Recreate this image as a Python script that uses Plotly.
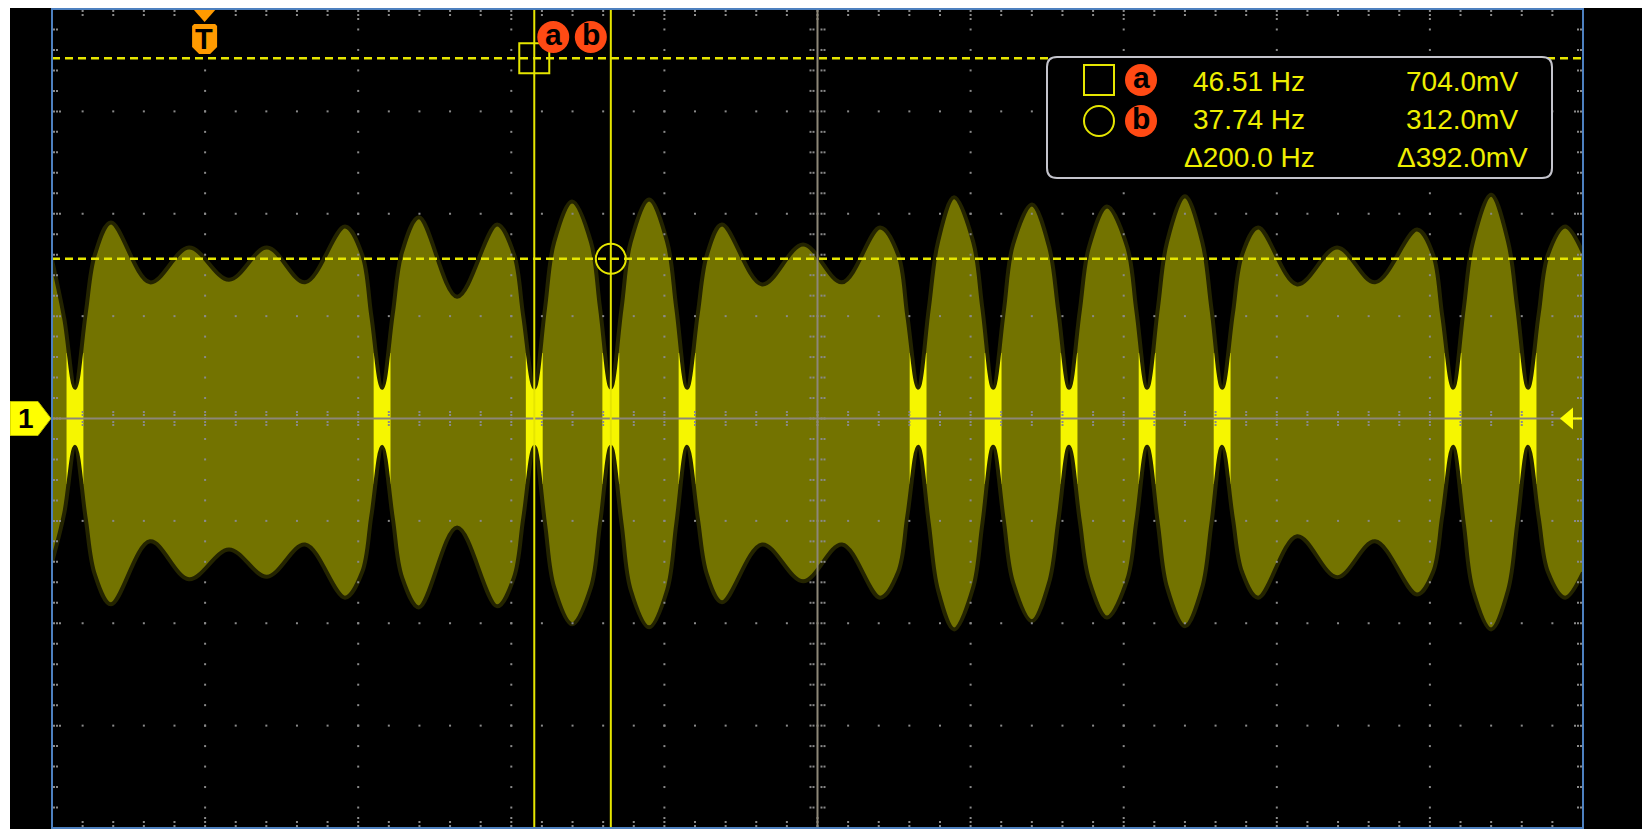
import plotly.graph_objects as go

# ---------------- data ----------------
# envelope of the acquired waveform (time in ms, amplitude in mV)
time_ms = [-10.0, -9.2, -8.5, -7.8, -7.2, -6.15, -3.6, -1.05, 1.56, 4.04, 6.53, 9.14,
           10.26, 10.86, 11.56, 12.26, 12.86, 13.97, 16.46, 19.07,
           20.18, 20.78, 21.5, 22.2, 22.8, 23.97,
           25.2, 25.8, 26.5, 27.2, 27.8, 29.0,
           30.18, 30.78, 31.48, 32.18, 32.78, 33.76, 36.38, 39.06, 41.6, 44.09,
           45.27, 45.87, 46.57, 47.27, 47.87, 48.92,
           50.17, 50.77, 51.47, 52.17, 52.77, 54.01,
           55.13, 55.73, 56.43, 57.13, 57.73, 58.91,
           60.23, 60.83, 61.53, 62.23, 62.83, 64.0,
           65.13, 65.73, 66.43, 67.13, 67.73, 68.78, 71.33, 73.94, 76.42, 79.16,
           80.21, 80.81, 81.51, 82.21, 82.81, 84.0,
           85.11, 85.71, 86.41, 87.11, 87.71, 88.83, 90.0]
upper_mv = [310, 195, 60, 205, 320, 383, 266, 334, 271, 334, 266, 375,
            320, 200, 60, 205, 325, 393, 238, 379,
            320, 200, 60, 215, 345, 424,
            345, 215, 60, 215, 345, 428,
            345, 215, 60, 205, 320, 379, 262, 340, 266, 373,
            320, 200, 60, 215, 345, 432,
            345, 215, 60, 210, 340, 418,
            335, 210, 60, 210, 335, 414,
            335, 210, 60, 215, 345, 434,
            345, 215, 60, 205, 320, 373, 262, 334, 266, 369,
            320, 200, 60, 215, 345, 437,
            345, 215, 60, 205, 320, 375, 324]
lower_mv = [-281, -185, -55, -195, -305, -363, -240, -314, -256, -309, -246, -350,
            -300, -190, -55, -195, -310, -369, -213, -367,
            -310, -195, -55, -205, -330, -402,
            -330, -205, -55, -205, -335, -408,
            -335, -205, -55, -195, -305, -359, -246, -318, -246, -350,
            -300, -190, -55, -205, -335, -412,
            -330, -205, -55, -200, -320, -396,
            -320, -200, -55, -200, -315, -389,
            -315, -200, -55, -205, -330, -406,
            -330, -205, -55, -195, -300, -350, -230, -310, -240, -344,
            -300, -190, -55, -205, -335, -412,
            -335, -205, -55, -195, -300, -350, -301]
# envelope nulls (bright trace regions)
node_ms = [-8.5, 11.56, 21.5, 26.5, 31.48, 46.57, 51.47, 56.43, 61.53, 66.43, 81.51, 86.41]

cursor_time_ms = [21.50, 26.50]      # cursor a, cursor b
cursor_level_mv = [704.0, 312.0]     # cursor a, cursor b
trigger_ms = 0.0

# ---------------- scope geometry ----------------
T_MIN, T_DIV, N_TDIV = -10.0, 10.0, 10
V_DIV, N_VDIV = 200.0, 8
T_MAX = T_MIN + T_DIV * N_TDIV
V_MAX = V_DIV * N_VDIV / 2
W, H = 1642, 829
ML, MR, MT, MB = 52, 59, 9, 1
PW, PH = W - ML - MR, H - MT - MB
PXT = (T_MAX - T_MIN) / PW          # ms per pixel
PXV = (2 * V_MAX) / PH              # mV per pixel


def X(px):
    return T_MIN + (px - ML) * PXT


def Y(py):
    return V_MAX - (py - MT) * PXV


OLIVE = '#737300'
FRINGE = '#242400'
BRIGHT = '#f6f600'
CUR = '#e6e600'
TXT = '#eeee00'
GRID = '#8a8a8a'
CENTER = '#8d8778'
BADGE = '#ff4a14'
TRIG = '#ff9a00'

fig = go.Figure()

# olive body of the signal
fig.add_trace(go.Scatter(x=[T_MIN - 1, T_MAX + 1, T_MAX + 1, T_MIN - 1, T_MIN - 1],
                         y=[-500, -500, 500, 500, -500], mode='lines', fill='toself',
                         fillcolor=OLIVE, line=dict(width=0), hoverinfo='skip'))
# bright trace around the envelope nulls
bx, by = [], []
hw, hh = 0.55, 128
for n in node_ms:
    bx += [n - hw, n + hw, n + hw, n - hw, n - hw, None]
    by += [-hh, -hh, hh, hh, -hh, None]
fig.add_trace(go.Scatter(x=bx, y=by, mode='lines', fill='toself', fillcolor=BRIGHT,
                         line=dict(width=0), hoverinfo='skip'))
# black above the upper envelope
fig.add_trace(go.Scatter(x=[T_MIN - 0.5, T_MAX + 0.5], y=[1200, 1200], mode='lines',
                         line=dict(width=0), hoverinfo='skip'))
fig.add_trace(go.Scatter(x=time_ms, y=upper_mv, mode='lines', fill='tonexty', fillcolor='black',
                         line=dict(color=FRINGE, width=4, shape='spline', smoothing=1.0),
                         hoverinfo='skip'))
# black below the lower envelope
fig.add_trace(go.Scatter(x=[T_MIN - 0.5, T_MAX + 0.5], y=[-1200, -1200], mode='lines',
                         line=dict(width=0), hoverinfo='skip'))
fig.add_trace(go.Scatter(x=time_ms, y=lower_mv, mode='lines', fill='tonexty', fillcolor='black',
                         line=dict(color=FRINGE, width=4, shape='spline', smoothing=1.0),
                         hoverinfo='skip'))

# graticule dots
gx, gy = [], []
minor_t = [T_MIN + k * T_DIV / 5 for k in range(1, N_TDIV * 5)]
minor_v = [-V_MAX + k * V_DIV / 5 for k in range(1, N_VDIV * 5)]
t_center = T_MIN + T_DIV * N_TDIV / 2
for k in range(1, N_TDIV):
    t = T_MIN + k * T_DIV
    if abs(t - t_center) < 1e-9:
        continue
    for v in minor_v:
        gx.append(t); gy.append(v)
for k in range(1, N_VDIV):
    v = -V_MAX + k * V_DIV
    if abs(v) < 1e-9:
        continue
    for t in minor_t:
        gx.append(t); gy.append(v)
for v in minor_v:
    major = abs(round(v / V_DIV) * V_DIV - v) < 1e-6
    offs = [2, 5, 8] if major else [2, 5]
    for o in offs:
        gx += [T_MIN + o * PXT, T_MAX - o * PXT]; gy += [v, v]
    for o in [4, 7]:
        gx += [t_center - o * PXT, t_center + o * PXT]; gy += [v, v]
for t in minor_t:
    major = abs(round((t - T_MIN) / T_DIV) * T_DIV - (t - T_MIN)) < 1e-6
    offs = [2, 6, 10] if major else [2, 6]
    for o in offs:
        gx += [t, t]; gy += [V_MAX - o * PXV, -V_MAX + o * PXV]
    for o in [3.5, 6.5]:
        gx += [t, t]; gy += [o * PXV, -o * PXV]
fig.add_trace(go.Scatter(x=gx, y=gy, mode='markers', hoverinfo='skip',
                         marker=dict(symbol='square', size=2, color=GRID, line=dict(width=0))))
# centre cross
fig.add_trace(go.Scatter(x=[T_MIN, T_MAX], y=[0, 0], mode='lines',
                         line=dict(color=CENTER, width=2), hoverinfo='skip'))
fig.add_trace(go.Scatter(x=[t_center, t_center], y=[-V_MAX, V_MAX], mode='lines',
                         line=dict(color=CENTER, width=2), hoverinfo='skip'))

ta, tb = cursor_time_ms
va, vb = cursor_level_mv
shapes = []
ann = []

# horizontal (level) cursors
for v in cursor_level_mv:
    shapes.append(dict(type='line', xref='paper', yref='y', x0=0, x1=1, y0=v, y1=v,
                       line=dict(color=CUR, width=2.5, dash='8px,5px'), layer='above'))
# vertical (time) cursors
for t in cursor_time_ms:
    shapes.append(dict(type='line', xref='x', yref='paper', x0=t, x1=t, y0=0, y1=1,
                       line=dict(color=CUR, width=2), layer='above'))
# cursor crossing markers
shapes.append(dict(type='rect', xref='x', yref='y', xsizemode='pixel', ysizemode='pixel',
                   xanchor=ta, yanchor=va, x0=-15, x1=15, y0=-15, y1=15,
                   line=dict(color=CUR, width=2), layer='above'))
shapes.append(dict(type='circle', xref='x', yref='y', xsizemode='pixel', ysizemode='pixel',
                   xanchor=tb, yanchor=vb, x0=-15, x1=15, y0=-15, y1=15,
                   line=dict(color=CUR, width=2), layer='above'))
# cursor badges at top
for t, dx, lab in [(ta, 19, 'a'), (tb, -20, 'b')]:
    shapes.append(dict(type='circle', xref='x', yref='paper', xsizemode='pixel', ysizemode='pixel',
                       xanchor=t, yanchor=1, x0=dx - 16, x1=dx + 16, y0=-44, y1=-12,
                       fillcolor=BADGE, line=dict(width=0), layer='above'))
    ann.append(dict(x=t, y=1, xref='x', yref='paper', xshift=dx, yshift=-25, text='<b>%s</b>' % lab,
                    showarrow=False, xanchor='center', yanchor='middle',
                    font=dict(family='Liberation Sans', size=30, color='black')))

# trigger marker
shapes.append(dict(type='path', xref='x', yref='paper', xsizemode='pixel', ysizemode='pixel',
                   xanchor=trigger_ms, yanchor=1, path='M -12,0 L 11,0 L -0.5,-13 Z',
                   fillcolor=TRIG, line=dict(width=0), layer='above'))
shapes.append(dict(type='path', xref='x', yref='paper', xsizemode='pixel', ysizemode='pixel',
                   xanchor=trigger_ms, yanchor=1,
                   path='M -11,-15 L 10,-15 L 12,-17 L 12,-38 L 5,-45 L -6,-45 L -13,-38 L -13,-17 Z',
                   fillcolor=TRIG, line=dict(width=0), layer='above'))
ann.append(dict(x=trigger_ms, y=1, xref='x', yref='paper', xshift=-1, yshift=-30, text='<b>T</b>',
                showarrow=False, xanchor='center', yanchor='middle',
                font=dict(family='Liberation Sans', size=29, color='black')))

# channel 1 ground marker (left) and level arrow (right)
shapes.append(dict(type='path', xref='paper', yref='y', xsizemode='pixel', ysizemode='pixel',
                   xanchor=0, yanchor=0, path='M -42,17 L -14,17 L -1,0 L -14,-17 L -42,-17 Z',
                   fillcolor='#ffff00', line=dict(color='#b8b800', width=1), layer='above'))
ann.append(dict(x=0, y=0, xref='paper', yref='y', xshift=-26, yshift=0, text='<b>1</b>',
                showarrow=False, xanchor='center', yanchor='middle',
                font=dict(family='Liberation Sans', size=28, color='black')))
shapes.append(dict(type='path', xref='paper', yref='y', xsizemode='pixel', ysizemode='pixel',
                   xanchor=1, yanchor=0, path='M -23,0 L -10,11 L -10,-11 Z',
                   fillcolor='#ffff00', line=dict(width=0), layer='above'))
shapes.append(dict(type='path', xref='paper', yref='y', xsizemode='pixel', ysizemode='pixel',
                   xanchor=1, yanchor=0, path='M -11,0 L 0,0',
                   line=dict(color='#ffff00', width=2), layer='above'))

# readout box
bx0, bx1, by1, by0 = X(1047), X(1552), Y(57), Y(178)
rdx, rdy = 10 * PXT, 10 * PXV
box_path = (f'M {bx0 + rdx},{by1} L {bx1 - rdx},{by1} Q {bx1},{by1} {bx1},{by1 - rdy} '
            f'L {bx1},{by0 + rdy} Q {bx1},{by0} {bx1 - rdx},{by0} L {bx0 + rdx},{by0} '
            f'Q {bx0},{by0} {bx0},{by0 + rdy} L {bx0},{by1 - rdy} Q {bx0},{by1} {bx0 + rdx},{by1} Z')
shapes.append(dict(type='path', xref='x', yref='y', path=box_path, fillcolor='black',
                   line=dict(color='#c4c4cc', width=2), layer='above'))
row_y = [Y(81), Y(119.5), Y(157.5)]
icon_x, badge_x = X(1099), X(1141)
shapes.append(dict(type='rect', xref='x', yref='y', xsizemode='pixel', ysizemode='pixel',
                   xanchor=icon_x, yanchor=Y(80), x0=-15, x1=15, y0=-15, y1=15,
                   line=dict(color=CUR, width=2), layer='above'))
shapes.append(dict(type='circle', xref='x', yref='y', xsizemode='pixel', ysizemode='pixel',
                   xanchor=icon_x, yanchor=Y(121), x0=-15, x1=15, y0=-15, y1=15,
                   line=dict(color=CUR, width=2), layer='above'))
for py, lab in [(80, 'a'), (121, 'b')]:
    shapes.append(dict(type='circle', xref='x', yref='y', xsizemode='pixel', ysizemode='pixel',
                       xanchor=badge_x, yanchor=Y(py), x0=-16, x1=16, y0=-16, y1=16,
                       fillcolor=BADGE, line=dict(width=0), layer='above'))
    ann.append(dict(x=badge_x, y=Y(py), xref='x', yref='y', yshift=3, text='<b>%s</b>' % lab,
                    showarrow=False, xanchor='center', yanchor='middle',
                    font=dict(family='Liberation Sans', size=30, color='black')))

freq_text = ['%.2f Hz' % (1000 / ta), '%.2f Hz' % (1000 / tb), '\u0394%.1f Hz' % (1000 / (tb - ta))]
volt_text = ['%.1fmV' % va, '%.1fmV' % vb, '\u0394%.1fmV' % (va - vb)]
for i in range(3):
    ann.append(dict(x=X(1249), y=row_y[i], xref='x', yref='y', text=freq_text[i], showarrow=False,
                    xanchor='center', yanchor='middle',
                    font=dict(family='Liberation Sans', size=28, color=TXT)))
    ann.append(dict(x=X(1462), y=row_y[i], xref='x', yref='y', text=volt_text[i], showarrow=False,
                    xanchor='center', yanchor='middle',
                    font=dict(family='Liberation Sans', size=28, color=TXT)))

# screen frame
shapes.append(dict(type='rect', xref='paper', yref='paper', x0=0, x1=1, y0=0, y1=1,
                   line=dict(color='#4d80bf', width=2), layer='above'))
shapes.append(dict(type='rect', xref='paper', yref='paper', xsizemode='pixel', ysizemode='pixel',
                   xanchor=0, yanchor=1, x0=-ML, x1=W, y0=1, y1=MT + 2,
                   fillcolor='white', line=dict(width=0), layer='above'))
shapes.append(dict(type='rect', xref='paper', yref='paper', xsizemode='pixel', ysizemode='pixel',
                   xanchor=0, yanchor=1, x0=-ML, x1=-ML + 10, y0=-H, y1=MT + 2,
                   fillcolor='white', line=dict(width=0), layer='above'))

fig.update_layout(
    width=W, height=H,
    margin=dict(l=ML, r=MR, t=MT, b=MB, pad=0, autoexpand=False),
    paper_bgcolor='black', plot_bgcolor='black', showlegend=False,
    xaxis=dict(range=[T_MIN, T_MAX], visible=False, fixedrange=True),
    yaxis=dict(range=[-V_MAX, V_MAX], visible=False, fixedrange=True),
    shapes=shapes, annotations=ann,
)

fig.write_html("out.html", config={'displayModeBar': False},
               post_script="document.body.style.margin='0';document.body.style.overflow='hidden';")
